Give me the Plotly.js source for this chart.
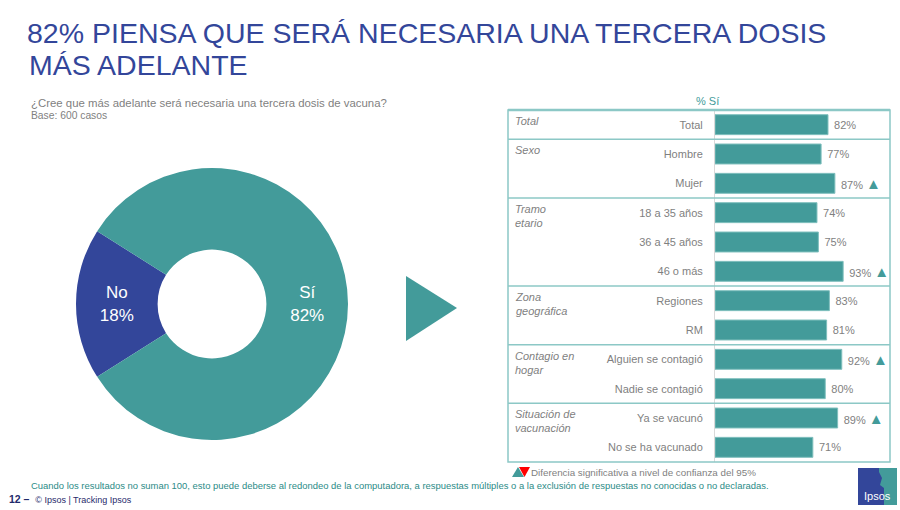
<!DOCTYPE html>
<html>
<head>
<meta charset="utf-8">
<script src="https://cdn.plot.ly/plotly-3.0.1.min.js"></script>
<style>html,body{margin:0;padding:0;background:#fff;}#chart{width:900px;height:510px;}</style>
</head>
<body>
<div id="chart"></div>
<script>
// ---- data ----
const donutLabels = ["No", "Sí"];
const donutValues = [18, 82];

const categories = ["Total", "Hombre", "Mujer", "18 a 35 años", "36 a 45 años", "46 o más",
  "Regiones", "RM", "Alguien se contagió", "Nadie se contagió", "Ya se vacunó", "No se ha vacunado"];
const valuesSi = [82, 77, 87, 74, 75, 93, 83, 81, 92, 80, 89, 71];
const significant = [false, false, true, false, false, true, false, false, true, false, true, false];

const groupNames = ["Total", "Sexo", "Tramo<br>etario", "Zona<br>geográfica", "Contagio en<br>hogar", "Situación de<br>vacunación"];
const groupSizes = [1, 2, 3, 2, 2, 2];

const titleLine1 = "82% PIENSA QUE SERÁ NECESARIA UNA TERCERA DOSIS";
const titleLine2 = "MÁS ADELANTE";
const question = "¿Cree que más adelante será necesaria una tercera dosis de vacuna?";
const baseText = "Base: 600 casos";
const legendText = "Diferencia significativa a nivel de confianza del 95%";
const footNote = "Cuando los resultados no suman 100, esto puede deberse al redondeo de la computadora, a respuestas múltiples o a la exclusión de respuestas no conocidas o no declaradas.";

// ---- styles ----
const TEAL = "#439B9A";
const BLUE = "#33469A";
const GRAY = "#7f7f7f";
const LINE = "#8cc8c6";
const FONT = "Liberation Sans, Arial, sans-serif";
const W = 900, H = 510;
const px = x => x / W;
const py = y => 1 - y / H;

const barText = valuesSi.map((v, i) => "\u00A0" + v + "%" +
  (significant[i] ? "\u00A0<span style=\"color:" + TEAL + ";font-size:15px\">▲</span>" : ""));

const traces = [
  {
    type: "pie",
    labels: donutLabels,
    values: donutValues,
    sort: false,
    direction: "clockwise",
    rotation: 237.6,
    hole: 0.40,
    marker: { colors: [BLUE, TEAL], line: { width: 0 } },
    texttemplate: "%{label}<br>%{value}%",
    textposition: "inside",
    insidetextorientation: "horizontal",
    textfont: { family: FONT, size: 17, color: "#ffffff" },
    domain: { x: [px(76), px(348)], y: [py(440), py(168)] },
    showlegend: false,
    hoverinfo: "label+percent"
  },
  {
    type: "bar",
    orientation: "h",
    y: categories,
    x: valuesSi,
    text: barText,
    textposition: "outside",
    constraintext: "none",
    cliponaxis: false,
    textfont: { family: FONT, size: 11, color: GRAY },
    marker: { color: TEAL, line: { color: "#7fbfbd", width: 1 } },
    xaxis: "x",
    yaxis: "y",
    showlegend: false,
    hoverinfo: "y+x"
  }
];

// shapes
const shapes = [];
// panel border
shapes.push({ type: "rect", xref: "paper", yref: "paper", x0: px(508), x1: px(890), y0: py(462), y1: py(110),
  line: { color: LINE, width: 1.5 }, fillcolor: "rgba(0,0,0,0)" });
shapes.push({ type: "line", xref: "paper", yref: "paper", x0: px(508), x1: px(890), y0: py(110), y1: py(110),
  line: { color: LINE, width: 2.5 } });
// group separators + group labels
const annotations = [];
let start = 0;
groupSizes.forEach((n, gi) => {
  if (gi > 0) {
    shapes.push({ type: "line", xref: "paper", yref: "y", x0: px(508), x1: px(890), y0: start - 0.5, y1: start - 0.5,
      line: { color: LINE, width: 1.5 } });
  }
  annotations.push({ xref: "paper", yref: "y", x: px(513), y: start - 0.5, xanchor: "left", yanchor: "top",
    yshift: -3, align: "left", showarrow: false, text: groupNames[gi],
    font: { family: FONT, size: 11, color: GRAY, style: "italic" } });
  start += n;
});
// arrow triangle
shapes.push({ type: "path", xref: "paper", yref: "paper",
  path: `M ${px(406)},${py(276)} L ${px(457)},${py(308)} L ${px(406)},${py(341)} Z`,
  fillcolor: TEAL, line: { width: 0 } });
// significance legend symbols
shapes.push({ type: "path", xref: "paper", yref: "paper",
  path: `M ${px(512)},${py(477)} L ${px(518)},${py(467)} L ${px(524)},${py(477)} Z`,
  fillcolor: TEAL, line: { width: 0 } });
shapes.push({ type: "path", xref: "paper", yref: "paper",
  path: `M ${px(519)},${py(467)} L ${px(530)},${py(467)} L ${px(524.5)},${py(477)} Z`,
  fillcolor: "#ff0000", line: { width: 0 } });
// Ipsos logo
shapes.push({ type: "rect", xref: "paper", yref: "paper", x0: px(858), x1: px(897), y0: py(505), y1: py(468),
  fillcolor: BLUE, line: { width: 0 } });
shapes.push({ type: "path", xref: "paper", yref: "paper",
  path: `M ${px(879)},${py(468)} L ${px(897)},${py(468)} L ${px(897)},${py(505)} L ${px(884)},${py(505)} L ${px(884)},${py(488)} L ${px(880)},${py(485)} L ${px(882)},${py(478)} L ${px(879)},${py(472)} Z`,
  fillcolor: TEAL, line: { width: 0 } });

annotations.push(
  { xref: "paper", yref: "paper", x: px(27), y: py(64.5), xanchor: "left", yanchor: "middle", showarrow: false,
    text: titleLine2, font: { family: FONT, size: 28.5, color: BLUE } },
  { xref: "paper", yref: "paper", x: px(29), y: py(103), xanchor: "left", yanchor: "middle", showarrow: false,
    text: question, font: { family: FONT, size: 11.4, color: GRAY } },
  { xref: "paper", yref: "paper", x: px(29), y: py(116), xanchor: "left", yanchor: "middle", showarrow: false,
    text: baseText, font: { family: FONT, size: 10.3, color: GRAY } },
  { xref: "paper", yref: "paper", x: px(707), y: py(101), xanchor: "center", yanchor: "middle", showarrow: false,
    text: "% Sí", font: { family: FONT, size: 11, color: TEAL } },
  { xref: "paper", yref: "paper", x: px(529), y: py(472), xanchor: "left", yanchor: "middle", showarrow: false,
    text: legendText, font: { family: FONT, size: 9.8, color: GRAY } },
  { xref: "paper", yref: "paper", x: px(29), y: py(485), xanchor: "left", yanchor: "middle", showarrow: false,
    text: footNote, font: { family: FONT, size: 9.45, color: "#2b8b87" } },
  { xref: "paper", yref: "paper", x: px(7), y: py(499), xanchor: "left", yanchor: "middle", showarrow: false,
    text: "<b>12 –</b>  <span style=\"font-size:9px\">© Ipsos | Tracking Ipsos</span>", font: { family: FONT, size: 10.5, color: "#1f2a6b" } },
  { xref: "paper", yref: "paper", x: px(877.5), y: py(496), xanchor: "center", yanchor: "middle", showarrow: false,
    text: "Ipsos", font: { family: FONT, size: 11, color: "#ffffff" } }
);

const layout = {
  width: W, height: H,
  margin: { l: 0, r: 0, t: 0, b: 0 },
  paper_bgcolor: "#ffffff",
  plot_bgcolor: "rgba(0,0,0,0)",
  font: { family: FONT },
  title: { text: titleLine1, xref: "paper", yref: "paper", x: px(27), xanchor: "left", y: py(33), yanchor: "middle",
    font: { family: FONT, size: 28.5, color: BLUE } },
  bargap: 0.32,
  xaxis: { domain: [px(715), px(890)], range: [0, 127], visible: false, fixedrange: true },
  yaxis: { domain: [py(462), py(110)], type: "category", range: [categories.length - 0.5, -0.5],
    showgrid: false, zeroline: false, showline: true, linecolor: "#d9d9d9", linewidth: 1,
    ticks: "", ticklabelstandoff: 9, tickfont: { family: FONT, size: 11, color: GRAY }, fixedrange: true },
  shapes: shapes,
  annotations: annotations
};

Plotly.newPlot("chart", traces, layout, { displayModeBar: false, staticPlot: true });
</script>
</body>
</html>
